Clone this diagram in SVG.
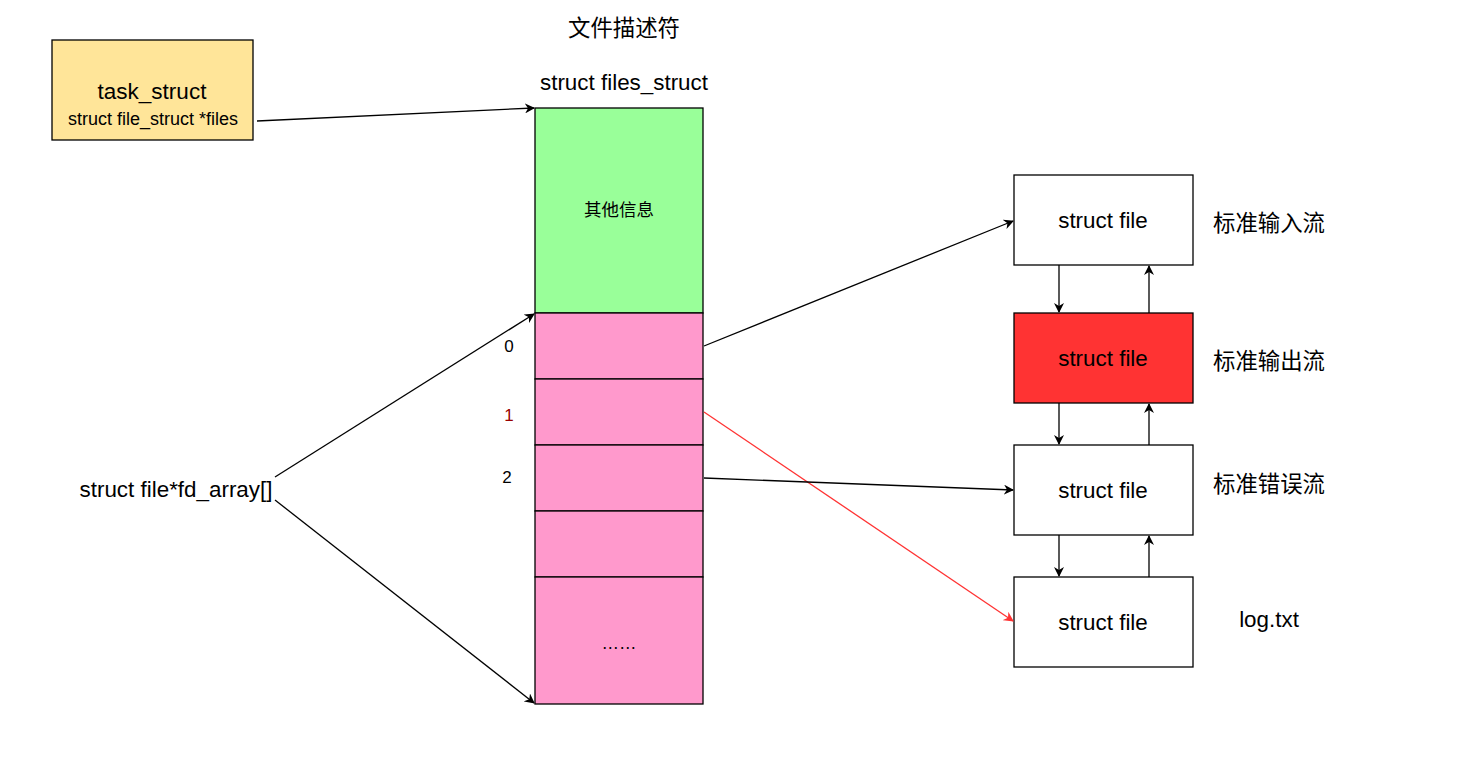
<svg xmlns="http://www.w3.org/2000/svg" width="1480" height="759" viewBox="0 0 1480 759">
<defs>
<marker id="ah" viewBox="0 0 10 10" refX="9" refY="5" markerWidth="10" markerHeight="10" markerUnits="userSpaceOnUse" orient="auto">
<path d="M0,0 L10,5 L0,10 L3,5 Z" fill="#000"/>
</marker>
<marker id="ahr" viewBox="0 0 10 10" refX="9" refY="5" markerWidth="10" markerHeight="10" markerUnits="userSpaceOnUse" orient="auto">
<path d="M0,0 L10,5 L0,10 L3,5 Z" fill="#FF3333"/>
</marker>
<style>
text{font-family:"Liberation Sans","Noto Sans CJK SC",sans-serif;fill:#000;text-anchor:middle;dominant-baseline:central}
.box{stroke:#000;stroke-width:1.3}
.c{fill:none;stroke:#000;stroke-width:1.3}
.big{font-size:22.4px}
</style>
</defs>
<rect width="1480" height="759" fill="#fff"/>
<text class="big" x="624" y="28">文件描述符</text>
<text class="big" x="624" y="82">struct files_struct</text>
<g id="task_struct">
<rect class="box" x="52" y="40" width="201" height="100" fill="#FFE599"/>
<text x="152" y="91" font-size="22.5">task_struct</text>
<text x="153" y="119" font-size="18">struct file_struct *files</text>
</g>
<g id="files_struct">
<rect class="box" x="535" y="108" width="168" height="205" fill="#99FF99"/>
<text x="619" y="210" font-size="17.5">其他信息</text>
<rect class="box" x="535" y="313" width="168" height="66" fill="#FF99CC"/>
<rect class="box" x="535" y="379" width="168" height="66" fill="#FF99CC"/>
<rect class="box" x="535" y="445" width="168" height="66" fill="#FF99CC"/>
<rect class="box" x="535" y="511" width="168" height="66" fill="#FF99CC"/>
<rect class="box" x="535" y="577" width="168" height="127" fill="#FF99CC"/>
<text x="619" y="643" font-size="17.5">……</text>
</g>
<g id="indices">
<text x="509" y="346" font-size="17">0</text>
<text x="509" y="415" font-size="17" style="fill:#990000">1</text>
<text x="507" y="477" font-size="17">2</text>
</g>
<g id="fd_array">
<text class="big" x="176" y="489">struct file*fd_array[]</text>
</g>
<g id="file0">
<rect class="box" x="1014" y="175" width="179" height="90" fill="#fff"/>
<text class="big" x="1103" y="220">struct file</text>
<text class="big" x="1269" y="223">标准输入流</text>
</g>
<g id="file1">
<rect class="box" x="1014" y="313" width="179" height="90" fill="#FF3333"/>
<text class="big" x="1103" y="358">struct file</text>
<text class="big" x="1269" y="361">标准输出流</text>
</g>
<g id="file2">
<rect class="box" x="1014" y="445" width="179" height="90" fill="#fff"/>
<text class="big" x="1103" y="490">struct file</text>
<text class="big" x="1269" y="484">标准错误流</text>
</g>
<g id="file3">
<rect class="box" x="1014" y="577" width="179" height="90" fill="#fff"/>
<text class="big" x="1103" y="622">struct file</text>
<text class="big" x="1269" y="619">log.txt</text>
</g>
<g id="connectors">
<path class="c" d="M257,121 L534,108" marker-end="url(#ah)"/>
<path class="c" d="M275,477 L534,314" marker-end="url(#ah)"/>
<path class="c" d="M275,500 L534,703" marker-end="url(#ah)"/>
<path class="c" d="M704,346 L1013,221" marker-end="url(#ah)"/>
<path d="M704,412 L1013,621" fill="none" stroke="#FF3333" stroke-width="1.3" marker-end="url(#ahr)"/>
<path class="c" d="M704,478 L1013,490" marker-end="url(#ah)"/>
<path class="c" d="M1059,265 L1059,312" marker-end="url(#ah)"/>
<path class="c" d="M1149,313 L1149,266" marker-end="url(#ah)"/>
<path class="c" d="M1059,403 L1059,444" marker-end="url(#ah)"/>
<path class="c" d="M1149,445 L1149,404" marker-end="url(#ah)"/>
<path class="c" d="M1059,535 L1059,576" marker-end="url(#ah)"/>
<path class="c" d="M1149,577 L1149,536" marker-end="url(#ah)"/>
</g>
</svg>
